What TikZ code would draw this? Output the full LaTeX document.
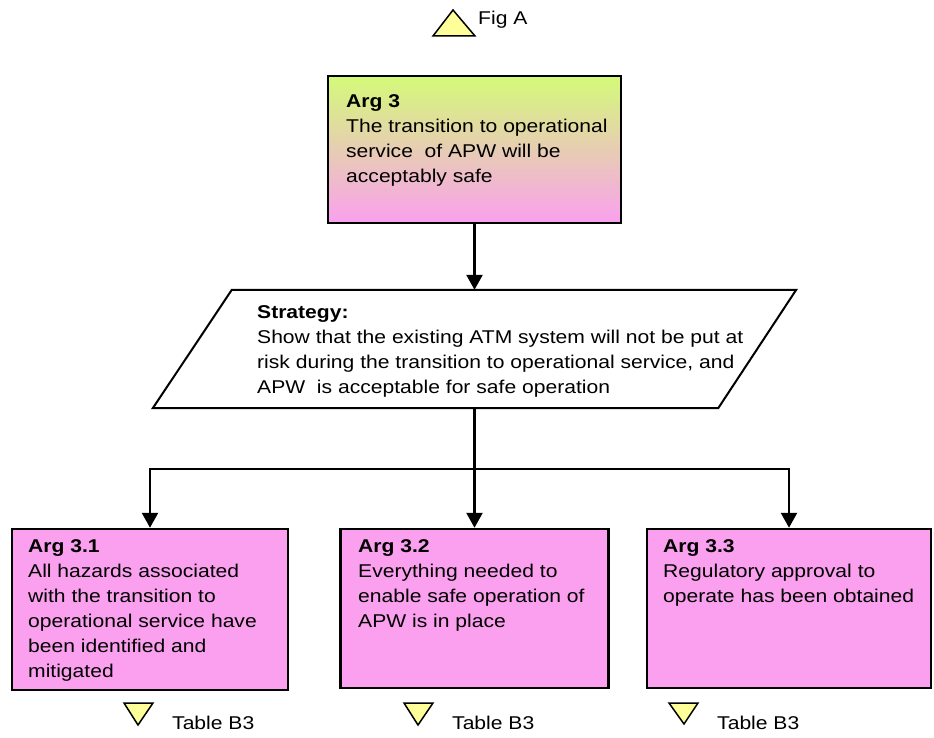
\documentclass[tikz,border=0pt]{standalone}
\usepackage{fontspec}
\setmainfont{Liberation Sans}[FakeStretch=1.14]
\usetikzlibrary{arrows.meta}

\definecolor{argpink}{RGB}{250,160,238}
\definecolor{arggreen}{RGB}{212,250,120}
\definecolor{refyellow}{RGB}{255,255,153}

\tikzset{
    argbox/.style={rectangle, draw, line width=2.5pt, fill=argpink, inner sep=0pt},
    topbox/.style={argbox, top color=arggreen, bottom color=argpink},
    stratarea/.style={rectangle, inner sep=0pt, minimum width=643pt, minimum height=118pt},
    stratline/.style={draw, line width=2pt, fill=white, line join=miter},
    argtext/.style={anchor=north west, inner sep=0pt, align=left,
        font=\fontsize{18.5}{25}\selectfont},
    reftext/.style={anchor=base west, inner sep=0pt, font=\fontsize{18.5}{25}\selectfont},
    reftri/.style={draw, line width=1.5pt, fill=refyellow, line join=miter},
    arr/.style={line width=2.5pt, -{Triangle[width=16pt,length=15pt]}}
}

\begin{document}
\begin{tikzpicture}[x=1pt, y=-1pt]
    \useasboundingbox (0,0) rectangle (934,738);

    % boxes
    \node[topbox, minimum width=293pt, minimum height=147pt] (arg3) at (474.5,149.5) {};
    \node[stratarea] (strat) at (474.5,349) {};
    \draw[stratline] (strat.south west) -- ([xshift=-78pt]strat.south east)
        -- (strat.north east) -- ([xshift=79pt]strat.north west) -- cycle;
    \node[argbox, minimum width=276pt, minimum height=161pt] (arg31) at (150,609.5) {};
    \node[argbox, minimum width=268pt, minimum height=159pt] (arg32) at (474.5,608.5) {};
    \node[argbox, minimum width=284pt, minimum height=159pt] (arg33) at (789,608.5) {};

    % texts
    \node[argtext] (arg3txt) at (346,94.7) {\textbf{Arg 3}\\The transition to operational\\service~ of APW will be\\acceptably safe};
    \node[argtext] (strattxt) at (257,305) {\textbf{Strategy:}\\Show that the existing ATM system will not be put at\\risk during the transition to operational service, and\\APW~ is acceptable for safe operation};
    \node[argtext] (arg31txt) at (28,539.7) {\textbf{Arg 3.1}\\All hazards associated\\with the transition to\\operational service have\\been identified and\\mitigated};
    \node[argtext] (arg32txt) at (358,539.7) {\textbf{Arg 3.2}\\Everything needed to\\enable safe operation of\\APW is in place};
    \node[argtext] (arg33txt) at (663,539.7) {\textbf{Arg 3.3}\\Regulatory approval to\\operate has been obtained};

    % connectors
    \coordinate (split) at (474.5,469);
    \draw[arr] (arg3.south) -- (strat.north);
    \draw[line width=2.5pt] (strat.south) -- (split);
    \draw[arr] (split) -| (arg31.north);
    \draw[arr] (split) -- (arg32.north);
    \draw[arr] (split) -| (arg33.north);

    % references
    \draw[reftri] (433,36) -- (475,36) -- (453,10) -- cycle;
    \node[reftext] (figA) at (478,25) {Fig A};

    \draw[reftri] (124,703) -- (153,703) -- (138,725) -- cycle;
    \node[reftext] (tabB3a) at (172,729) {Table B3};
    \draw[reftri] (404,703) -- (433,703) -- (418,725) -- cycle;
    \node[reftext] (tabB3b) at (452,729) {Table B3};
    \draw[reftri] (669,703) -- (698,703) -- (684,724) -- cycle;
    \node[reftext] (tabB3c) at (717,729) {Table B3};
\end{tikzpicture}
\end{document}
